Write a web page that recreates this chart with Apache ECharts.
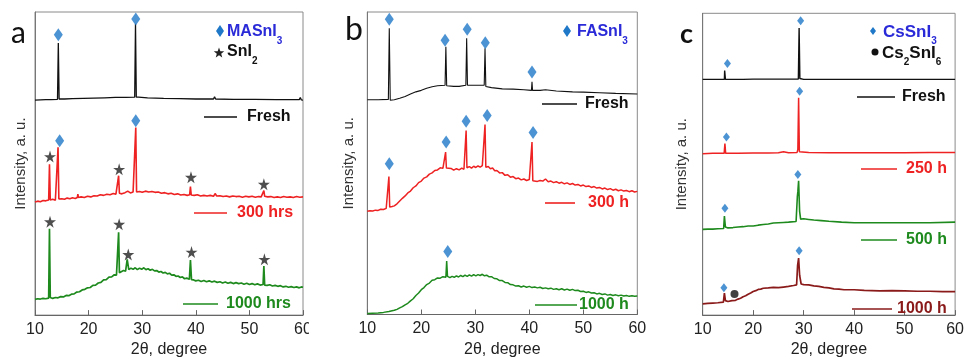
<!DOCTYPE html>
<html><head><meta charset="utf-8">
<script src="https://cdn.jsdelivr.net/npm/echarts@6/dist/echarts.min.js"></script>
<style>html,body{margin:0;padding:0;background:#fff}#c{width:967px;height:363px}</style>
</head><body><div id="c"></div>
<script>
// ---------- DATA ----------
const xTicks = [10, 20, 30, 40, 50, 60];
const xTitle = '2θ, degree';
const yTitle = 'Intensity, a. u.';

// Panel a (MASnI3)
const aLabels = ['Fresh', '300 hrs', '1000 hrs'];
const aFresh = [[10,70.9],[11,71.0],[12,71.1],[13,71.1],[14.2,71.2],[14.35,89.8],[14.5,71.3],[15.5,71.3],[17,71.4],[19,71.5],[21,71.6],[23,71.7],[25,71.8],[27,71.8],[28.6,71.9],[28.75,96.1],[28.9,71.9],[29.3,71.9],[31,71.7],[34,71.5],[37,71.4],[40,71.3],[43.3,71.3],[43.5,72.0],[43.7,71.3],[47,71.2],[51,71.2],[55,71.1],[59.3,71.1],[59.5,71.8],[59.7,71.0],[60,70.9]];
const a300 = [[10,37.3],[10.5,37.6],[11,37.4],[11.5,37.8],[12,37.7],[12.55,38.0],[12.7,49.8],[12.85,38.0],[13.3,38.2],[13.8,37.9],[14.15,38.3],[14.3,55.4],[14.45,38.3],[15,38.4],[15.5,38.2],[16,38.6],[16.5,38.4],[17,38.7],[17.5,38.5],[17.9,38.8],[18.0,39.9],[18.1,38.8],[18.6,39.0],[19.2,38.8],[19.8,39.2],[20.4,39.0],[21,39.4],[21.6,39.3],[22.2,39.7],[22.8,39.5],[23.4,39.9],[24,39.7],[24.6,40.1],[25.1,39.9],[25.45,40.2],[25.6,46.0],[25.75,40.2],[26.2,40.0],[26.8,40.4],[27.3,40.9],[27.8,40.3],[28.3,40.6],[28.65,40.4],[28.8,61.9],[28.95,40.6],[29.5,40.8],[30,40.5],[30.6,40.9],[31.2,40.6],[31.8,40.8],[32.4,40.5],[33,40.6],[33.6,40.2],[34.2,40.4],[34.8,40.0],[35.4,40.2],[36,39.8],[36.6,40.0],[37.2,39.6],[37.8,39.8],[38.4,39.5],[38.85,39.7],[39.0,42.4],[39.15,39.6],[39.7,39.5],[40.3,39.7],[40.9,39.3],[41.5,39.5],[42.1,39.3],[42.7,39.5],[43.3,39.2],[43.6,40.1],[43.9,39.3],[44.5,39.4],[45.1,39.1],[45.7,39.3],[46.3,39.0],[46.9,39.3],[47.5,39.1],[48.1,39.2],[48.7,38.9],[49.3,39.2],[49.9,39.0],[50.5,39.2],[51.1,38.9],[51.7,39.1],[52.2,39.0],[52.55,39.3],[52.7,41.1],[52.85,39.2],[53.4,39.0],[54,39.1],[54.6,38.8],[55.2,39.0],[55.8,38.8],[56.4,39.1],[57,38.9],[57.6,39.0],[58.2,38.8],[58.8,39.1],[59.4,38.9],[60,39.0]];
const a1000 = [[10,5.2],[10.5,5.4],[11,5.3],[11.5,5.5],[12,5.4],[12.55,5.6],[12.7,28.5],[12.85,5.8],[13.3,5.5],[13.8,5.8],[14.3,5.7],[14.8,6.1],[15.3,6.0],[15.8,6.5],[16.3,6.4],[16.8,6.9],[17.3,7.0],[17.8,7.6],[18.0,8.2],[18.3,7.7],[18.8,8.3],[19.3,8.5],[19.8,9.0],[20.3,9.1],[20.8,9.8],[21.3,9.9],[21.8,10.6],[22.3,10.8],[22.8,11.6],[23.3,11.7],[23.8,12.5],[24.3,12.6],[24.8,13.3],[25.2,13.2],[25.45,13.6],[25.6,27.3],[25.75,14.0],[26.1,14.2],[26.5,14.7],[26.9,14.5],[27.2,18.4],[27.5,15.0],[27.9,15.5],[28.3,15.1],[28.7,15.6],[29.1,15.0],[29.5,15.5],[29.9,15.1],[30.3,15.6],[30.7,15.0],[31.1,15.3],[31.5,14.8],[31.9,15.1],[32.3,14.6],[32.7,14.7],[33.1,14.2],[33.5,14.4],[33.9,13.9],[34.3,14.1],[34.7,13.6],[35.1,13.8],[35.5,13.2],[35.9,13.3],[36.3,12.8],[36.7,12.9],[37.1,12.4],[37.5,12.6],[37.9,12.0],[38.3,12.2],[38.8,11.8],[39.0,18.2],[39.2,11.7],[39.6,11.6],[40,11.3],[40.5,11.5],[41,11.1],[41.5,11.4],[42,11.0],[42.5,11.3],[43,10.9],[43.5,11.2],[44,10.8],[44.5,11.0],[45,10.6],[45.5,10.9],[46,10.5],[46.5,10.8],[47,10.4],[47.5,10.7],[48,10.4],[48.5,10.6],[49,10.2],[49.5,10.5],[50,10.1],[50.5,10.4],[51,10.0],[51.5,10.3],[52,9.9],[52.55,10.1],[52.7,16.2],[52.85,9.9],[53.3,9.8],[53.8,10.0],[54.3,9.6],[54.8,9.8],[55.3,9.5],[55.8,9.7],[56.3,9.3],[56.8,9.5],[57.3,9.2],[57.8,9.4],[58.3,9.1],[58.8,9.3],[59.3,9.0],[59.7,9.3],[60,9.2]];
const aDiamonds = [[14.35,92.5],[28.8,97.7],[14.6,57.5],[28.8,64.1]];
const aStars = [[12.8,52.3],[25.7,48.1],[39.1,45.5],[52.7,43.2],[12.8,30.8],[25.7,30.0],[27.4,20.0],[39.2,20.8],[52.8,18.4]];

// Panel b (FASnI3)
const bLabels = ['Fresh', '300 h', '1000 h'];
const bFresh = [[10,71.0],[12,71.0],[13.9,71.1],[14.07,94.6],[14.25,70.8],[15,71.0],[16,71.5],[17,72.1],[18,72.9],[19,73.6],[20,74.1],[21,74.8],[22,75.3],[23,75.6],[24.4,75.8],[24.55,88.5],[24.7,75.6],[26,75.4],[27,75.4],[28.25,75.8],[28.4,91.3],[28.55,75.8],[30,75.8],[31.65,75.8],[31.8,88.0],[31.95,75.4],[33,75.0],[35,74.6],[37,74.5],[39,74.3],[40.4,74.1],[40.5,76.9],[40.6,74.1],[42,74.1],[43,74.3],[45,73.9],[48,73.6],[50,73.5],[53,73.3],[56,73.1],[60,72.9]];
const b300 = [[10,34.1],[10.5,34.3],[11,34.2],[11.5,34.5],[12,34.4],[12.5,34.8],[13,34.7],[13.5,35.1],[13.85,35.2],[14.0,45.6],[14.15,35.5],[14.6,35.7],[15,35.9],[15.5,36.6],[16,37.5],[16.5,38.4],[17,39.2],[17.5,40.2],[18,40.8],[18.5,41.9],[19,42.5],[19.5,43.6],[20,44.1],[20.5,45.1],[21,45.5],[21.5,46.4],[22,46.8],[22.5,47.6],[23,47.8],[23.5,48.5],[24,48.3],[24.35,48.7],[24.5,53.7],[24.65,48.4],[25,48.0],[25.5,48.3],[26,47.7],[26.5,48.2],[27,47.8],[27.5,48.4],[27.9,48.0],[28.15,48.6],[28.3,60.8],[28.45,48.5],[28.9,48.9],[29.3,48.4],[29.7,49.0],[30.1,48.6],[30.5,49.1],[30.9,48.7],[31.3,49.2],[31.65,48.8],[31.8,62.8],[31.95,48.7],[32.4,48.9],[32.8,48.2],[33.2,48.4],[33.6,47.5],[34,47.6],[34.5,46.8],[35,46.9],[35.5,46.0],[36,46.2],[36.5,45.4],[37,45.6],[37.5,44.9],[38,45.1],[38.5,44.5],[39,44.8],[39.5,44.3],[40,44.6],[40.35,44.3],[40.5,57.0],[40.65,44.2],[41,44.5],[41.5,44.0],[42,44.3],[42.5,44.1],[43,44.8],[43.5,43.9],[44,44.1],[44.5,43.6],[45,43.9],[45.5,43.4],[46,43.7],[46.5,43.2],[47,43.5],[47.5,43.0],[48,43.3],[48.5,42.8],[49,43.0],[49.5,42.5],[50,42.8],[50.5,42.3],[51,42.5],[51.5,42.0],[52,42.3],[52.5,41.8],[53,42.0],[53.5,41.5],[54,41.8],[54.5,41.3],[55,41.6],[55.5,41.1],[56,41.4],[56.5,40.9],[57,41.2],[57.5,40.8],[58,41.0],[58.5,40.6],[59,40.9],[59.5,40.5],[60,40.7]];
const b1000 = [[10,0.3],[11,0.4],[12,0.5],[13,0.7],[14,1.0],[15,1.4],[15.5,1.7],[16,2.2],[16.5,2.6],[17,3.2],[17.5,3.7],[18,4.5],[18.5,5.2],[19,6.3],[19.5,7.1],[20,8.2],[20.5,8.9],[21,9.9],[21.5,10.4],[22,11.3],[22.5,11.5],[23,12.1],[23.5,12.0],[24,12.5],[24.55,12.3],[24.7,17.7],[24.85,12.6],[25.3,12.2],[25.7,12.6],[26.1,12.3],[26.5,12.8],[26.9,12.4],[27.3,12.9],[27.7,12.5],[28.1,13.0],[28.5,12.6],[28.9,13.1],[29.3,12.7],[29.7,13.2],[30.1,12.8],[30.5,13.2],[30.9,12.9],[31.3,13.3],[31.7,12.8],[32.1,13.0],[32.5,12.5],[33,12.5],[33.5,11.9],[34,11.8],[34.5,11.2],[35,11.2],[35.5,10.6],[36,10.5],[36.5,9.9],[37,9.8],[37.5,9.4],[38,9.5],[38.5,9.1],[39,9.4],[39.5,9.0],[40,9.3],[40.5,8.9],[41,9.1],[41.5,8.8],[42,9.0],[42.5,8.6],[43,8.8],[43.5,8.5],[44,8.7],[44.5,8.3],[45,8.5],[45.5,8.2],[46,8.5],[46.5,8.1],[47,8.4],[47.5,8.0],[48,8.3],[48.5,7.9],[49,8.0],[49.5,7.6],[50,7.7],[50.5,7.3],[51,7.5],[51.5,7.1],[52,7.2],[52.5,6.8],[53,7.0],[53.5,6.6],[54,6.8],[54.5,6.4],[55,6.6],[55.5,6.3],[56,6.5],[56.5,6.2],[57,6.4],[57.5,6.1],[58,6.3],[58.5,6.0],[59,6.2],[59.5,6.0],[60,6.1]];
const bDiamonds = [[14.07,97.6],[24.4,90.7],[28.5,94.3],[31.85,89.8],[40.5,80.2],[14.07,49.8],[24.6,57.0],[28.3,63.9],[32.2,65.8],[40.7,60.2],[24.9,20.8]];

// Panel c (CsSnI3)
const cLabels = ['Fresh', '250 h', '500 h', '1000 h'];
const cFresh = [[10,78.1],[12,78.1],[14.3,78.1],[14.35,81.0],[14.45,81.0],[14.5,78.1],[16,78.1],[18,78.1],[20,78.2],[22.6,78.2],[22.8,78.6],[23.0,78.2],[24.3,78.2],[24.5,78.5],[24.7,78.2],[25.3,78.2],[25.5,78.5],[25.7,78.2],[26.3,78.2],[26.5,78.4],[26.7,78.2],[28.95,78.2],[29.1,95.1],[29.25,78.4],[29.5,78.3],[30,78.1],[35,78.1],[41.8,78.1],[42,78.3],[42.2,78.1],[50,78.1],[60,78.1]];
const c250 = [[10,53.5],[12,53.6],[14.25,53.6],[14.4,56.8],[14.55,53.6],[17,53.6],[20,53.7],[23,53.7],[25,53.8],[26,54.1],[27,53.8],[28.7,53.9],[28.85,54.9],[29.0,72.0],[29.15,54.1],[29.5,54.0],[31,53.9],[35,53.8],[40,53.8],[45,53.8],[50,53.8],[55,53.9],[60,53.9]];
const c500 = [[10,28.4],[11,28.5],[12,28.5],[13,28.6],[14.15,28.7],[14.3,32.8],[14.5,29.2],[15,28.9],[16,29.0],[17,29.2],[18,29.3],[19,29.5],[20,29.5],[21,29.8],[22,30.0],[23,30.2],[24,30.5],[25,30.6],[26,30.7],[27,30.8],[28.5,31.0],[28.75,39.3],[28.85,40.9],[29.0,44.5],[29.2,34.4],[29.4,31.8],[30,31.9],[31,31.7],[32,31.5],[33.5,31.3],[35,31.1],[37.5,30.8],[40,30.6],[45,30.6],[50,30.6],[55,30.6],[60,30.8]];
const c1000 = [[10,3.7],[11,3.9],[12,4.0],[13,4.1],[14.1,4.3],[14.3,7.3],[14.5,4.8],[15,4.5],[15.8,4.8],[16.1,5.4],[16.5,4.9],[17,5.3],[17.5,5.6],[18,6.1],[18.5,6.4],[19,6.9],[19.5,7.3],[20,7.8],[20.5,8.1],[21,8.5],[21.5,8.6],[22,8.9],[23,9.0],[24,9.2],[25,9.1],[26,9.3],[27,9.5],[28,9.8],[28.6,10.0],[28.8,16.5],[29.0,18.9],[29.2,13.2],[29.5,10.3],[30,10.1],[31,10.0],[32,9.7],[33,9.5],[34,9.2],[35,9.0],[36,8.7],[37,8.6],[38,8.4],[40,8.4],[42,8.2],[45,8.0],[47.5,8.1],[50,8.0],[52.5,7.9],[55,7.9],[57.5,7.8],[60,7.8]];
const cDiamonds = [[14.9,83.4],[29.4,97.5],[14.7,59.0],[29.2,74.2],[14.4,35.4],[28.85,46.6],[14.2,9.1],[29.1,21.3]];
const cDots = [[16.3,7.0]];

// ---------- STYLE ----------
const BLACK = '#111111', RED = '#ee2222', GREEN = '#1e8a1e', DRED = '#8a1a1a', DIA = '#1f78c8', BLUE = '#2a2ad8';
const FONT = 'Liberation Sans, Arial, sans-serif';
const STAR = 'path://M50,0 L61,35 L98,35 L68,57 L79,91 L50,70 L21,91 L32,57 L2,35 L39,35 Z';

const grids = [
  { left: 35, top: 12, width: 268, height: 307.5 },
  { left: 367.3, top: 12, width: 270, height: 302.5 },
  { left: 702.7, top: 13.3, width: 256.3, height: 307.4 }
];
const yNameGaps = [7, 11, 13];

const option = {
  animation: false,
  backgroundColor: '#fff',
  grid: grids.map(g => Object.assign({ show: true, borderColor: '#8a8a8a', borderWidth: 1, backgroundColor: 'transparent' }, g)),
  xAxis: grids.map((g, i) => ({
    type: 'value', gridIndex: i, min: xTicks[0], max: xTicks[xTicks.length - 1], interval: 10,
    name: xTitle, nameLocation: 'middle', nameGap: 23,
    nameTextStyle: { fontFamily: FONT, fontSize: 16, color: '#222' },
    axisLine: { show: true, lineStyle: { color: '#666', width: 1 } },
    axisTick: { show: true, inside: true, length: 5, lineStyle: { color: '#666' } },
    axisLabel: { fontFamily: FONT, fontSize: 16, color: '#222', margin: 6 },
    splitLine: { show: false }
  })),
  yAxis: grids.map((g, i) => ({
    type: 'value', gridIndex: i, min: 0, max: 100,
    name: yTitle, nameLocation: 'middle', nameGap: yNameGaps[i], nameRotate: 90,
    nameTextStyle: { fontFamily: FONT, fontSize: 15, color: '#333' },
    axisLine: { show: true, lineStyle: { color: '#777', width: 1 } },
    axisTick: { show: false }, axisLabel: { show: false }, splitLine: { show: false }
  })),
  series: [],
  graphic: []
};

function line(i, data, color, w) {
  option.series.push({ type: 'line', xAxisIndex: i, yAxisIndex: i, data: data, showSymbol: false, symbol: 'none',
    lineStyle: { color: color, width: w }, z: 2 });
}
function marks(i, data, symbol, size, color) {
  option.series.push({ type: 'scatter', xAxisIndex: i, yAxisIndex: i, data: data, symbol: symbol, symbolSize: size,
    itemStyle: { color: color }, z: 5 });
}
line(0, aFresh, BLACK, 1.3); line(0, a300, RED, 1.6); line(0, a1000, GREEN, 1.7);
marks(0, aDiamonds, 'diamond', [9, 13], DIA); marks(0, aStars, STAR, 12, '#222');
line(1, bFresh, BLACK, 1.1); line(1, b300, RED, 1.5); line(1, b1000, GREEN, 1.5);
marks(1, bDiamonds, 'diamond', [9, 13], DIA);
line(2, cFresh, BLACK, 1.4); line(2, c250, RED, 1.5); line(2, c500, GREEN, 1.6); line(2, c1000, DRED, 1.7);
marks(2, cDiamonds, 'diamond', [7, 9], DIA); marks(2, cDots, 'circle', 8, '#111');

// ---------- ANNOTATIONS (legends, panel letters) ----------
const G = option.graphic;
function txt(x, y, t, color, size, weight, family) {
  G.push({ type: 'text', x: x, y: y, z: 10, style: { text: t, fill: color, font: (weight || 'normal') + ' ' + size + 'px ' + (family || FONT),
    verticalAlign: 'middle', align: 'left' } });
}
function seg(x1, x2, y, color) {
  G.push({ type: 'line', z: 10, shape: { x1: x1, y1: y, x2: x2, y2: y }, style: { stroke: color, lineWidth: 1.6 } });
}
function diamond(cx, cy, w, h) {
  G.push({ type: 'polygon', z: 10, shape: { points: [[cx, cy - h / 2], [cx + w / 2, cy], [cx, cy + h / 2], [cx - w / 2, cy]] }, style: { fill: DIA } });
}
function star(cx, cy, r) {
  const pts = [];
  for (let k = 0; k < 10; k++) {
    const rr = k % 2 === 0 ? r : r * 0.42;
    const ang = -Math.PI / 2 + k * Math.PI / 5;
    pts.push([cx + rr * Math.cos(ang), cy + rr * Math.sin(ang)]);
  }
  G.push({ type: 'polygon', z: 10, shape: { points: pts }, style: { fill: '#222' } });
}
function richStyle(color, size) {
  return {
    m: { fontFamily: FONT, fontWeight: 'bold', fontSize: size, fill: color, lineHeight: 22, verticalAlign: 'top' },
    s: { fontFamily: FONT, fontWeight: 'bold', fontSize: 10, fill: color, lineHeight: 22, verticalAlign: 'bottom' }
  };
}
function richTxt(x, y, text, color, size) {
  G.push({ type: 'text', x: x, y: y, z: 10, style: { text: text, rich: richStyle(color, size), verticalAlign: 'middle', align: 'left' } });
}
// panel letters
txt(11, 33, 'a', '#111', 30, 'normal', 'Lato, sans-serif');
txt(345, 30, 'b', '#111', 32, 'normal', 'Lato, sans-serif');
txt(680, 34, 'c', '#111', 27, 'bold', 'Lato, sans-serif');

// panel a legend
diamond(220, 31, 8, 12);
richTxt(227, 35, '{m|MASnI}{s|3}', BLUE, 16);
star(219, 53, 5.5);
richTxt(227, 55, '{m|SnI}{s|2}', '#111', 16);
seg(204, 237, 117, BLACK); txt(247, 117, aLabels[0], BLACK, 16, 'bold');
seg(194, 227, 213, RED); txt(237, 213, aLabels[1], RED, 16, 'bold');
seg(183, 218, 304, GREEN); txt(226, 304, aLabels[2], GREEN, 16, 'bold');

// panel b legend
diamond(567, 31, 8, 12);
richTxt(577, 35, '{m|FASnI}{s|3}', BLUE, 16);
seg(542, 577, 104, BLACK); txt(585, 104, bLabels[0], BLACK, 16, 'bold');
seg(545, 575, 203, RED); txt(588, 203, bLabels[1], RED, 16, 'bold');
seg(535, 577, 305, GREEN); txt(579, 305, bLabels[2], GREEN, 16, 'bold');

// panel c legend
diamond(873, 31, 6, 8);
richTxt(883, 35, '{m|CsSnI}{s|3}', BLUE, 17);
G.push({ type: 'circle', z: 10, shape: { cx: 875, cy: 52, r: 3.5 }, style: { fill: '#111' } });
richTxt(882, 56, '{m|Cs}{s|2}{m|SnI}{s|6}', '#111', 17);
seg(857, 895, 97, BLACK); txt(902, 97, cLabels[0], BLACK, 16, 'bold');
seg(861, 897, 169, RED); txt(906, 169, cLabels[1], RED, 16, 'bold');
seg(861, 897, 240, GREEN); txt(906, 240, cLabels[2], GREEN, 16, 'bold');
seg(852, 892, 309, DRED); txt(897, 309, cLabels[3], DRED, 16, 'bold');

// the reference crops panel a's last tick label at the panel edge
G.push({ type: 'rect', z: 20, shape: { x: 309, y: 322, width: 14, height: 24 }, style: { fill: '#fff' } });

const chart = echarts.init(document.getElementById('c'), null, { renderer: 'canvas' });
chart.setOption(option);
</script></body></html>
